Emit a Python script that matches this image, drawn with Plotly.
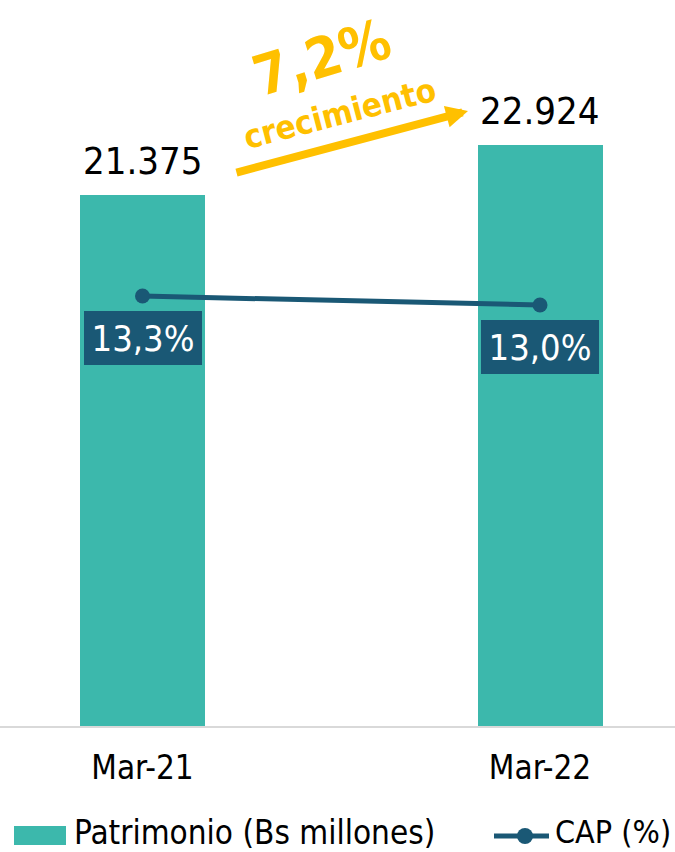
import plotly.graph_objects as go

categories = ["Mar-21", "Mar-22"]
patrimonio = [21375, 22924]
cap = [13.3, 13.0]
patrimonio_labels = ["21.375", "22.924"]
cap_labels = ["13,3%", "13,0%"]
series_names = ["Patrimonio (Bs millones)", "CAP (%)"]

FONT = "DejaVu Sans Condensed, Liberation Sans Narrow, sans-serif"
TEAL = "#3CB8AC"
NAVY = "#1A5875"
GOLD = "#FFC000"

fig = go.Figure()
fig.add_trace(go.Bar(
    x=categories, y=patrimonio, name=series_names[0],
    marker=dict(color=TEAL, line=dict(width=0)), width=0.3145,
    yaxis="y", showlegend=False,
))
fig.add_trace(go.Scatter(
    x=categories, y=cap, name=series_names[1], mode="lines+markers",
    line=dict(color=NAVY, width=5), marker=dict(color=NAVY, size=15),
    yaxis="y2", showlegend=False,
))

annotations = []
for c, v, t in zip(categories, patrimonio, patrimonio_labels):
    annotations.append(dict(x=c, y=v, xref="x", yref="y", text=t, showarrow=False,
                            xanchor="center", yanchor="bottom", yshift=10,
                            font=dict(family=FONT, size=38, color="black")))
for c, v, t in zip(categories, cap, cap_labels):
    annotations.append(dict(x=c, y=v, xref="x", yref="y2", text=t, showarrow=False,
                            xanchor="center", yanchor="top", yshift=-15,
                            bgcolor=NAVY, borderpad=4,
                            borderwidth=0, width=110, height=46,
                            font=dict(family=FONT, size=36, color="white")))

# growth arrow and text
annotations.append(dict(xref="paper", yref="paper", x=468/675, y=(727-111)/727,
                        ax=-233, ay=62, axref="pixel", ayref="pixel",
                        text="", showarrow=True, arrowhead=2, arrowsize=0.55,
                        arrowwidth=8, arrowcolor=GOLD))
annotations.append(dict(xref="paper", yref="paper", x=322/675, y=(727-58)/727,
                        xanchor="center", yanchor="middle",
                        text="<b>7,2%</b>", showarrow=False, textangle=-17,
                        font=dict(family=FONT, size=56, color=GOLD)))
annotations.append(dict(xref="paper", yref="paper", x=339/675, y=(727-113)/727,
                        xanchor="center", yanchor="middle",
                        text="<b>crecimiento</b>", showarrow=False, textangle=-14.5,
                        font=dict(family=FONT, size=33, color=GOLD)))

# legend (drawn manually to match the wide swatches)
LEG_Y = -(832 - 727) / 727
annotations.append(dict(xref="paper", yref="paper", x=72/675, y=LEG_Y,
                        xanchor="left", yanchor="middle", text=series_names[0],
                        showarrow=False, font=dict(family=FONT, size=33, color="black")))
annotations.append(dict(xref="paper", yref="paper", x=553/675, y=LEG_Y,
                        xanchor="left", yanchor="middle", text=series_names[1],
                        showarrow=False, font=dict(family=FONT, size=32, color="black")))

shapes = [
    dict(type="line", xref="paper", yref="paper", x0=0, x1=1, y0=0, y1=0,
         line=dict(color="#D9D9D9", width=2)),
    dict(type="rect", xref="paper", yref="paper", x0=14/675, x1=66/675,
         y0=-(845-727)/727, y1=-(826-727)/727, fillcolor=TEAL, line=dict(width=0)),
    dict(type="line", xref="paper", yref="paper", x0=494/675, x1=549/675,
         y0=-(836-727)/727, y1=-(836-727)/727, line=dict(color=NAVY, width=5)),
    dict(type="circle", xref="paper", yref="paper", x0=517/675, x1=533/675,
         y0=-(844-727)/727, y1=-(828-727)/727, fillcolor=NAVY, line=dict(width=0)),
]

fig.update_layout(
    width=675, height=852,
    margin=dict(l=0, r=0, t=0, b=125, autoexpand=False),
    paper_bgcolor="white", plot_bgcolor="white",
    font=dict(family=FONT, size=33, color="black"),
    xaxis=dict(type="category", range=[-0.3585, 1.3396], showgrid=False,
               showline=False, ticks="", tickfont=dict(size=33),
               ticklabelstandoff=18),
    yaxis=dict(range=[4894, 27416], visible=False, showgrid=False),
    yaxis2=dict(range=[-1.067, 23.17], overlaying="y", visible=False, showgrid=False),
    showlegend=False,
    annotations=annotations,
    shapes=shapes,
    bargap=0,
)

fig.write_html("out.html", config={"displayModeBar": False},
               post_script="document.body.style.margin='0';document.body.style.overflow='hidden';")
